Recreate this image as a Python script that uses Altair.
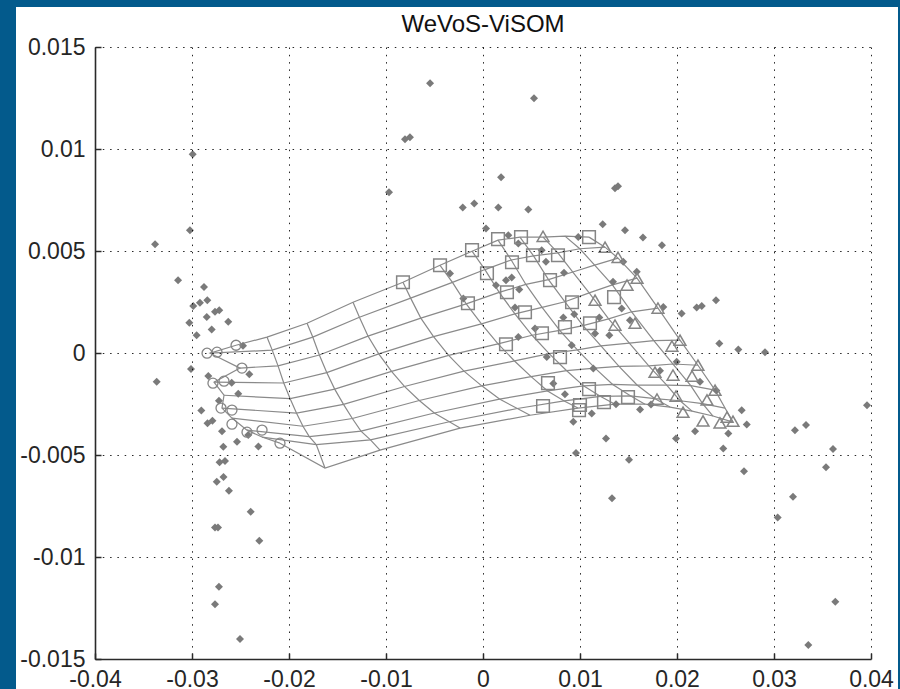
import altair as alt
import pandas as pd

# ---------------- data ----------------
x_ticks = [-0.04, -0.03, -0.02, -0.01, 0, 0.01, 0.02, 0.03, 0.04]
y_ticks = [-0.015, -0.01, -0.005, 0, 0.005, 0.01, 0.015]

# ViSOM lattice nodes: 10 rows (top -> bottom) x 12 columns (left -> right)
mesh_x = [
    [-25.46e-3, -22.27e-3, -18.14e-3, -13.40e-3, -8.25e-3, -4.43e-3, -1.13e-3, 1.55e-3, 3.81e-3, 6.19e-3, 8.45e-3, 10.93e-3],
    [-28.14e-3, -21.73e-3, -17.55e-3, -12.74e-3, -7.46e-3, -3.15e-3, 0.20e-3, 2.91e-3, 5.21e-3, 7.72e-3, 9.98e-3, 12.58e-3],
    [-25.05e-3, -21.13e-3, -16.87e-3, -11.86e-3, -6.41e-3, -1.73e-3, 1.67e-3, 4.42e-3, 6.75e-3, 9.26e-3, 11.51e-3, 13.92e-3],
    [-27.73e-3, -20.54e-3, -16.11e-3, -10.75e-3, -5.10e-3, -0.16e-3, 3.29e-3, 6.09e-3, 8.45e-3, 10.95e-3, 13.34e-3, 15.88e-3],
    [-26.70e-3, -19.88e-3, -15.29e-3, -9.43e-3, -3.54e-3, 1.55e-3, 5.06e-3, 7.91e-3, 10.31e-3, 12.95e-3, 15.32e-3, 18.04e-3],
    [-26.91e-3, -19.22e-3, -14.38e-3, -8.10e-3, -1.96e-3, 3.25e-3, 6.82e-3, 9.73e-3, 12.16e-3, 15.09e-3, 17.61e-3, 20.31e-3],
    [-25.88e-3, -18.56e-3, -13.47e-3, -6.57e-3, -0.13e-3, 4.96e-3, 8.60e-3, 11.55e-3, 14.02e-3, 17.09e-3, 19.59e-3, 22.16e-3],
    [-24.33e-3, -17.91e-3, -12.58e-3, -5.02e-3, 1.70e-3, 6.66e-3, 10.36e-3, 13.37e-3, 15.88e-3, 18.94e-3, 21.42e-3, 23.92e-3],
    [-22.78e-3, -17.19e-3, -11.60e-3, -3.47e-3, 3.54e-3, 8.37e-3, 12.13e-3, 15.19e-3, 17.73e-3, 20.32e-3, 22.64e-3, 24.95e-3],
    [-20.93e-3, -16.29e-3, -10.62e-3, -2.37e-3, 4.85e-3, 9.79e-3, 13.61e-3, 16.70e-3, 19.28e-3, 21.55e-3, 23.71e-3, 25.77e-3],
]
mesh_y = [
    [0.38e-3, 0.78e-3, 1.46e-3, 2.49e-3, 3.47e-3, 4.30e-3, 4.99e-3, 5.53e-3, 5.68e-3, 5.68e-3, 5.73e-3, 5.68e-3],
    [-0.01e-3, 0.14e-3, 0.78e-3, 1.75e-3, 2.69e-3, 3.46e-3, 4.09e-3, 4.56e-3, 4.76e-3, 4.91e-3, 5.11e-3, 5.19e-3],
    [-0.74e-3, -0.63e-3, -0.10e-3, 0.83e-3, 1.71e-3, 2.41e-3, 2.97e-3, 3.36e-3, 3.60e-3, 3.97e-3, 4.31e-3, 4.65e-3],
    [-1.43e-3, -1.47e-3, -0.96e-3, -0.04e-3, 0.80e-3, 1.43e-3, 1.92e-3, 2.24e-3, 2.51e-3, 2.95e-3, 3.34e-3, 3.67e-3],
    [-2.07e-3, -2.24e-3, -1.77e-3, -0.90e-3, -0.12e-3, 0.45e-3, 0.87e-3, 1.11e-3, 1.34e-3, 1.67e-3, 2.02e-3, 2.20e-3],
    [-2.70e-3, -2.95e-3, -2.52e-3, -1.64e-3, -0.89e-3, -0.39e-3, -0.03e-3, 0.15e-3, 0.35e-3, 0.48e-3, 0.61e-3, 0.63e-3],
    [-3.19e-3, -3.59e-3, -3.21e-3, -2.33e-3, -1.61e-3, -1.16e-3, -0.86e-3, -0.74e-3, -0.66e-3, -0.63e-3, -0.54e-3, -0.60e-3],
    [-3.78e-3, -4.10e-3, -3.83e-3, -2.94e-3, -2.26e-3, -1.86e-3, -1.61e-3, -1.54e-3, -1.57e-3, -1.57e-3, -1.60e-3, -1.82e-3],
    [-4.12e-3, -4.49e-3, -4.26e-3, -3.37e-3, -2.72e-3, -2.35e-3, -2.13e-3, -2.10e-3, -2.24e-3, -2.34e-3, -2.48e-3, -2.70e-3],
    [-4.42e-3, -5.64e-3, -4.76e-3, -3.68e-3, -3.05e-3, -2.70e-3, -2.51e-3, -2.51e-3, -2.65e-3, -2.85e-3, -3.09e-3, -3.39e-3],
]

# data samples (grey diamonds)
pts_x = [
    -5.46e-3, 5.26e-3, -7.53e-3, -8.04e-3, -29.93e-3, -9.69e-3, 13.61e-3, 13.92e-3, 1.86e-3, -2.09e-3,
    -0.90e-3, 1.58e-3, 4.67e-3, 0.31e-3, 12.34e-3, 14.64e-3, 16.49e-3, 18.45e-3, 2.61e-3, 3.64e-3,
    9.82e-3, 6.05e-3, 6.49e-3, -3.40e-3, 2.37e-3, 2.96e-3, 1.34e-3, 3.74e-3, 8.35e-3, 13.40e-3,
    15.85e-3, 14.46e-3, -2.03e-3, 3.30e-3, 5.36e-3, 3.64e-3, 8.28e-3, 9.41e-3, 11.55e-3, 9.14e-3,
    6.57e-3, 11.99e-3, 14.30e-3, 13.02e-3, 15.15e-3, 18.59e-3, 20.48e-3, 22.03e-3, 22.55e-3, 24.02e-3,
    24.36e-3, 26.32e-3, 11.37e-3, 19.97e-3, 18.25e-3, 22.37e-3, 24.05e-3, 7.25e-3, 8.45e-3, 13.71e-3,
    16.19e-3, 17.32e-3, 11.21e-3, 9.31e-3, 12.68e-3, 19.90e-3, 21.86e-3, 25.29e-3, 26.67e-3, 27.19e-3,
    24.77e-3,
    -30.21e-3, -28.76e-3, -28.42e-3, -29.18e-3, -29.87e-3, -27.19e-3, -27.63e-3, -28.48e-3, -26.26e-3, -27.97e-3,
    -29.52e-3, -30.28e-3, -24.74e-3, -24.09e-3, -25.91e-3, -25.23e-3, -29.04e-3, -28.40e-3, -27.89e-3, -26.91e-3,
    -25.36e-3, -23.16e-3, -26.77e-3, -27.16e-3, -26.60e-3, -26.75e-3, -27.45e-3, -26.19e-3, -30.10e-3, -33.64e-3,
    -28.32e-3, -27.22e-3, -24.20e-3, -23.95e-3, -27.63e-3, -27.32e-3, -23.06e-3, -27.22e-3, -27.63e-3, -25.05e-3,
    -33.81e-3, -31.44e-3,
    30.38e-3, 36.32e-3, 33.54e-3, 39.59e-3, 36.08e-3, 35.36e-3, 31.96e-3, 33.30e-3, 32.16e-3, 26.91e-3,
    29.07e-3, 13.30e-3, 15.05e-3, 9.59e-3,
]
pts_y = [
    13.22e-3, 12.49e-3, 10.58e-3, 10.48e-3, 9.74e-3, 7.88e-3, 8.08e-3, 8.18e-3, 8.62e-3, 7.13e-3,
    7.33e-3, 7.13e-3, 7.03e-3, 6.10e-3, 6.31e-3, 6.02e-3, 5.66e-3, 5.28e-3, 5.77e-3, 5.37e-3,
    5.69e-3, 5.04e-3, 4.47e-3, 3.90e-3, 3.57e-3, 3.70e-3, 3.32e-3, 3.11e-3, 3.93e-3, 3.49e-3,
    3.98e-3, 4.47e-3, 2.67e-3, 2.23e-3, 1.20e-3, 0.79e-3, 1.74e-3, 1.90e-3, 0.96e-3, 0.38e-3,
    -0.19e-3, 1.74e-3, 2.18e-3, 0.87e-3, 1.61e-3, 2.26e-3, 1.94e-3, 2.23e-3, 2.30e-3, 2.59e-3,
    0.47e-3, 0.17e-3, -0.76e-3, -0.43e-3, -0.87e-3, -1.41e-3, -1.84e-3, -1.49e-3, -2.02e-3, -2.51e-3,
    -2.77e-3, -2.53e-3, -2.96e-3, -3.37e-3, -4.19e-3, -4.19e-3, -3.83e-3, -3.94e-3, -2.81e-3, -3.51e-3,
    -4.68e-3,
    6.02e-3, 3.24e-3, 2.59e-3, 2.46e-3, 2.30e-3, 2.10e-3, 2.02e-3, 1.77e-3, 1.53e-3, 1.15e-3,
    0.87e-3, 1.48e-3, 0.36e-3, -1.04e-3, -1.46e-3, -2.00e-3, -2.82e-3, -3.44e-3, -3.32e-3, -3.83e-3,
    -4.35e-3, -4.58e-3, -4.60e-3, -5.35e-3, -5.30e-3, -6.08e-3, -6.31e-3, -6.75e-3, -0.79e-3, -1.41e-3,
    -1.13e-3, -2.34e-3, -4.02e-3, -7.78e-3, -8.55e-3, -8.55e-3, -9.20e-3, -11.46e-3, -12.32e-3, -14.02e-3,
    5.33e-3, 3.57e-3,
    -8.06e-3, -12.19e-3, -14.31e-3, -2.56e-3, -4.70e-3, -5.60e-3, -7.05e-3, -3.53e-3, -3.79e-3, -5.80e-3,
    0.04e-3, -7.12e-3, -5.23e-3, -4.90e-3,
]

# labelled neurons
circle_x = [-28.45e-3, -27.42e-3, -25.46e-3, -24.85e-3, -27.84e-3, -26.70e-3, -27.01e-3, -25.88e-3, -25.88e-3, -24.33e-3, -22.78e-3, -20.93e-3]
circle_y = [-0.01e-3, 0.04e-3, 0.38e-3, -0.74e-3, -1.48e-3, -1.38e-3, -2.70e-3, -2.80e-3, -3.49e-3, -3.88e-3, -3.78e-3, -4.42e-3]

square_x = [-8.25e-3, -4.43e-3, -1.13e-3, 1.55e-3, 3.92e-3, 10.93e-3, 5.15e-3, 7.73e-3, 2.99e-3, 0.41e-3,
            6.91e-3, 2.47e-3, -1.55e-3, 13.51e-3, 4.33e-3, 9.18e-3, 8.45e-3, 11.03e-3, 6.08e-3, 2.37e-3,
            7.94e-3, 6.70e-3, 10.93e-3, 14.95e-3, 12.47e-3, 6.19e-3, 10.00e-3, 9.90e-3]
square_y = [3.47e-3, 4.30e-3, 5.04e-3, 5.58e-3, 5.68e-3, 5.68e-3, 4.79e-3, 4.79e-3, 4.45e-3, 3.91e-3,
            3.57e-3, 2.98e-3, 2.44e-3, 2.74e-3, 2.00e-3, 2.49e-3, 1.27e-3, 1.46e-3, 0.97e-3, 0.43e-3,
            -0.20e-3, -1.48e-3, -1.77e-3, -2.16e-3, -2.41e-3, -2.60e-3, -2.55e-3, -2.80e-3]

tri_x = [6.19e-3, 12.58e-3, 13.92e-3, 15.88e-3, 14.85e-3, 18.04e-3, 11.55e-3, 13.61e-3, 15.67e-3, 20.31e-3,
         19.48e-3, 22.16e-3, 17.73e-3, 19.59e-3, 21.55e-3, 23.92e-3, 23.09e-3, 19.90e-3, 17.94e-3, 20.62e-3,
         22.68e-3, 24.43e-3, 25.77e-3, 25.16e-3]
tri_y = [5.72e-3, 5.19e-3, 4.69e-3, 3.67e-3, 3.33e-3, 2.20e-3, 2.59e-3, 1.37e-3, 1.46e-3, 0.63e-3,
         0.34e-3, -0.60e-3, -0.94e-3, -1.08e-3, -1.13e-3, -1.82e-3, -2.30e-3, -2.11e-3, -2.26e-3, -2.90e-3,
         -3.33e-3, -3.43e-3, -3.34e-3, -3.14e-3]

# ---------------- tables ----------------
mesh = pd.DataFrame(
    [{"row": i, "col": j, "x": mesh_x[i][j], "y": mesh_y[i][j]}
     for i in range(len(mesh_x)) for j in range(len(mesh_x[0]))]
)
pts = pd.DataFrame({"x": pts_x, "y": pts_y})
circ = pd.DataFrame({"x": circle_x, "y": circle_y})
sq = pd.DataFrame({"x": square_x, "y": square_y})
tri = pd.DataFrame({"x": tri_x, "y": tri_y})

FONT = "Liberation Sans"
W, H = 776, 612
GRID = dict(grid=True, gridColor="#000000", gridDash=[1.5, 5.8], gridOpacity=0.85, gridWidth=1,
            tickSize=0, domainColor="#2a2a2a", domainWidth=1.6, labelFont=FONT, labelFontSize=23,
            labelColor="#262626", labelOverlap=False, labelFlush=False, labelBound=False,
            title="", zindex=1)
TICKS = dict(grid=False, labels=False, domain=False, ticks=True, tickSize=6, tickColor="#2a2a2a",
             tickWidth=1.5, title="", zindex=1)

xs = alt.Scale(domain=[-0.04, 0.04], nice=False, zero=False)
ys = alt.Scale(domain=[-0.015, 0.015], nice=False, zero=False)
lab = "datum.value == 0 ? '0' : toString(round(datum.value * 1000000) / 1000000)"

X = alt.X("x:Q", scale=xs, axis=alt.Axis(values=x_ticks, labelExpr=lab, labelPadding=9, **GRID))
Y = alt.Y("y:Q", scale=ys, axis=alt.Axis(values=y_ticks, labelExpr=lab, labelPadding=10, **GRID))
Xn = alt.X("x:Q", scale=xs, axis=None)
Yn = alt.Y("y:Q", scale=ys, axis=None)
# inward-pointing ticks (MATLAB style) on the left and bottom edges
Xt = alt.X("x:Q", scale=xs, axis=alt.Axis(values=x_ticks, orient="top", offset=-H, **TICKS))
Yt = alt.Y("y:Q", scale=ys, axis=alt.Axis(values=y_ticks, orient="right", offset=-W, **TICKS))

panel = alt.Chart(pd.DataFrame({"a": [0]})).mark_rect(color="#ffffff").encode(
    x=alt.value(-79), x2=alt.value(803), y=alt.value(-40), y2=alt.value(645)
)

LINE = "#8a8a8a"
rows = alt.Chart(mesh).mark_line(color=LINE, strokeWidth=1.2).encode(
    x=X, y=Y, detail="row:N", order="col:Q")
cols = alt.Chart(mesh).mark_line(color=LINE, strokeWidth=1.2).encode(
    x=Xt, y=Yt, detail="col:N", order="row:Q")

MK = "#858585"
diam = alt.Chart(pts).mark_point(shape="diamond", filled=True, color="#7a7a7a", size=64, opacity=1).encode(x=Xn, y=Yn)
circles = alt.Chart(circ).mark_point(shape="circle", filled=False, color=MK, size=100, strokeWidth=1.3, opacity=1).encode(x=Xn, y=Yn)
squares = alt.Chart(sq).mark_point(shape="square", filled=False, color=MK, size=160, strokeWidth=1.5, opacity=1).encode(x=Xn, y=Yn)
tris = alt.Chart(tri).mark_point(shape="triangle-up", filled=False, color=MK, size=140, strokeWidth=1.5, opacity=1).encode(x=Xn, y=Yn)

chart = alt.layer(panel, rows, cols, diam, circles, squares, tris).resolve_axis(
    x="independent", y="independent"
).properties(
    width=W, height=H,
    title=alt.TitleParams("WeVoS-ViSOM", font=FONT, fontSize=24, fontWeight="normal",
                          color="#111111", anchor="middle", frame="group", baseline="alphabetic",
                          offset=-49),
    autosize=alt.AutoSizeParams(type="none"),
    padding={"left": 95, "top": 47, "right": 29, "bottom": 30},
).configure(background="#035a8c").configure_view(stroke="transparent")

chart.save("out.html", embed_options={"renderer": "svg", "actions": False})
